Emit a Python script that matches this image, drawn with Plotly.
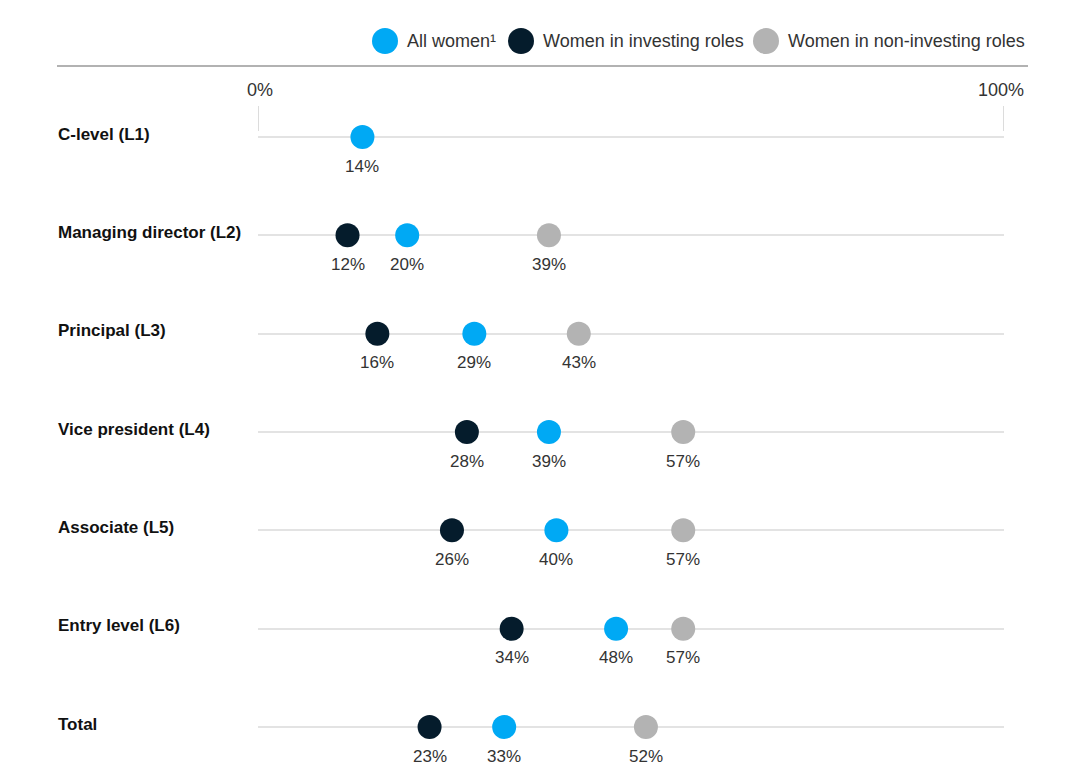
import plotly.graph_objects as go

W, H = 1074, 784

categories = ["C-level (L1)", "Managing director (L2)", "Principal (L3)", "Vice president (L4)",
              "Associate (L5)", "Entry level (L6)", "Total"]
all_women = [14, 20, 29, 39, 40, 48, 33]
investing = [None, 12, 16, 28, 26, 34, 23]
non_investing = [None, 39, 43, 57, 57, 57, 52]
axis_ticks = [0, 100]
axis_tick_labels = ["0%", "100%"]

series = [
    ("Women in non-investing roles", non_investing, "#B3B3B3"),
    ("Women in investing roles", investing, "#051C2C"),
    ("All women¹", all_women, "#00A9F4"),
]

FONT = "Liberation Sans, Arial, sans-serif"
rows = list(range(len(categories)))

fig = go.Figure()
for name, vals, color in series:
    xs = [v for v in vals if v is not None]
    ys = [r for r, v in zip(rows, vals) if v is not None]
    fig.add_trace(go.Scatter(
        x=xs, y=ys, mode="markers", name=name,
        marker=dict(size=24, color=color, line=dict(width=0)),
        cliponaxis=False, showlegend=False,
    ))
    for x, y in zip(xs, ys):
        fig.add_annotation(x=x, xref="x", y=y, yref="y", text=f"{x}%", showarrow=False,
                           xanchor="center", yanchor="middle", yshift=-29,
                           font=dict(size=17, color="#333333", family=FONT))

# row labels
for r, c in zip(rows, categories):
    fig.add_annotation(x=56 / W, xref="paper", y=r, yref="y", text=f"<b>{c}</b>",
                       showarrow=False, xanchor="left", yanchor="middle", yshift=3,
                       font=dict(size=17, color="#111111", family=FONT))

# x-axis labels and tick lines
for v, t in zip(axis_ticks, axis_tick_labels):
    fig.add_annotation(x=v, xref="x", y=1 - 90 / H, yref="paper", text=t, showarrow=False,
                       xanchor="center", yanchor="middle", xshift=(2 if v == 0 else -3),
                       font=dict(size=18, color="#333333", family=FONT))
    fig.add_shape(type="line", xref="x", yref="paper", x0=v, x1=v,
                  y0=1 - 106 / H, y1=1 - 131 / H, line=dict(color="#d0d0d0", width=1.5))

# top rule
fig.add_shape(type="line", xref="paper", yref="paper", x0=57 / W, x1=1028 / W,
              y0=1 - 66 / H, y1=1 - 66 / H, line=dict(color="#999999", width=1.5))

# legend (manual)
legend_items = [("All women¹", "#00A9F4", 385), ("Women in investing roles", "#051C2C", 521),
                ("Women in non-investing roles", "#B3B3B3", 766)]
ly = 41
for label, color, cx in legend_items:
    rr = 13
    fig.add_shape(type="circle", xref="paper", yref="paper",
                  x0=(cx - rr) / W, x1=(cx + rr) / W, y0=1 - (ly + rr) / H, y1=1 - (ly - rr) / H,
                  fillcolor=color, line=dict(width=0))
    fig.add_annotation(x=(cx + 20) / W, xref="paper", y=1 - ly / H, yref="paper", text=label,
                       showarrow=False, xanchor="left", yanchor="middle",
                       font=dict(size=18, color="#333333", family=FONT))

k = (727 - 137) / 6
top = -137 / k
bottom = top + H / k

fig.update_layout(
    width=W, height=H, margin=dict(l=0, r=0, t=0, b=0),
    paper_bgcolor="white", plot_bgcolor="white",
    xaxis=dict(domain=[258 / W, 1004 / W], range=[0, 100], showgrid=False, zeroline=False,
               showticklabels=False, ticks="", showline=False),
    yaxis=dict(domain=[0, 1], range=[bottom, top], tickvals=rows, showticklabels=False,
               showgrid=True, gridcolor="#e3e3e3", gridwidth=1.5, zeroline=False, ticks=""),
    showlegend=False,
)

fig.write_html("out.html")
